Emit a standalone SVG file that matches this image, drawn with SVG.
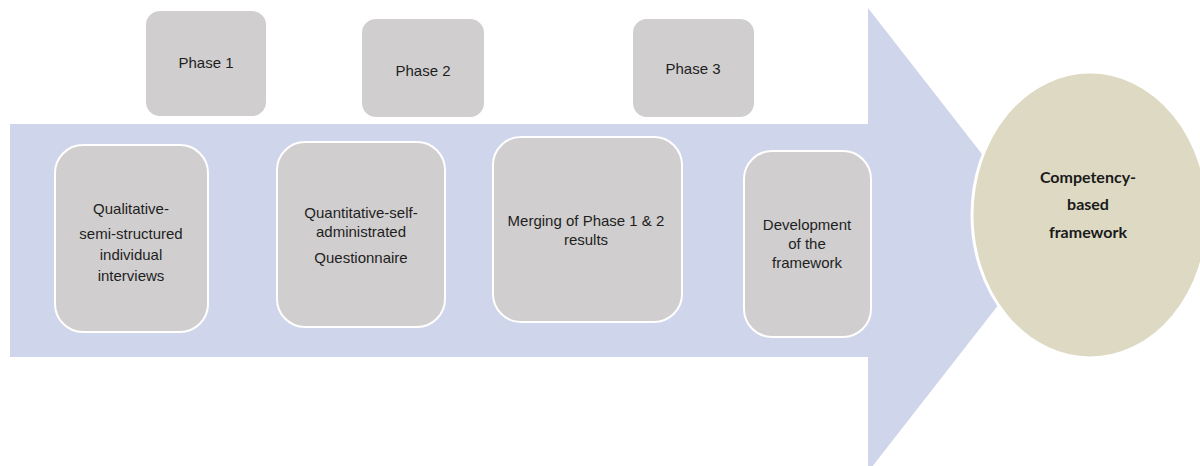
<svg xmlns="http://www.w3.org/2000/svg" width="1200" height="466" viewBox="0 0 1200 466">
  <style>
    .box { fill: #D0CECF; stroke: #FFFFFF; stroke-width: 2; }
    .lbl { font-family: "Liberation Sans", Arial, sans-serif; font-size: 15px; fill: #1E1E1E; text-anchor: middle; }
    .goal { font-family: Lato, "Open Sans", sans-serif; font-weight: bold; font-size: 16px; fill: #1A1A1A; text-anchor: middle; }
  </style>
  <rect width="1200" height="466" fill="#FFFFFF"/>

  <!-- big process arrow (backdrop) -->
  <g id="connectors">
    <polygon points="10,124 868,124 868,8 1049,240 868,472 868,357 10,357" fill="#CFD5EA"/>
  </g>

  <!-- phase labels -->
  <g id="phase1">
    <rect class="box" x="145" y="10" width="122" height="107" rx="15" stroke="none"/>
    <text class="lbl" x="206" y="68">Phase 1</text>
  </g>
  <g id="phase2">
    <rect class="box" x="361" y="18" width="124" height="100" rx="15" stroke="none"/>
    <text class="lbl" x="423" y="76">Phase 2</text>
  </g>
  <g id="phase3">
    <rect class="box" x="632" y="18" width="123" height="100" rx="15" stroke="none"/>
    <text class="lbl" x="693" y="74">Phase 3</text>
  </g>

  <!-- steps along the arrow -->
  <g id="step-qualitative">
    <rect class="box" x="55" y="145" width="153" height="187" rx="28"/>
    <text class="lbl" x="131" y="214">Qualitative-</text>
    <text class="lbl" x="131" y="239">semi-structured</text>
    <text class="lbl" x="131" y="260">individual</text>
    <text class="lbl" x="131" y="281">interviews</text>
  </g>
  <g id="step-quantitative">
    <rect class="box" x="277" y="142" width="168" height="185" rx="28"/>
    <text class="lbl" x="361" y="218">Quantitative-self-</text>
    <text class="lbl" x="361" y="237">administrated</text>
    <text class="lbl" x="361" y="263">Questionnaire</text>
  </g>
  <g id="step-merging">
    <rect class="box" x="493" y="137" width="189" height="185" rx="28"/>
    <text class="lbl" x="586" y="226">Merging of Phase 1 &amp; 2</text>
    <text class="lbl" x="586" y="245">results</text>
  </g>
  <g id="step-development">
    <rect class="box" x="744" y="151" width="127" height="186" rx="28"/>
    <text class="lbl" x="807" y="230">Development</text>
    <text class="lbl" x="807" y="249">of the</text>
    <text class="lbl" x="807" y="268">framework</text>
  </g>

  <!-- outcome -->
  <g id="outcome">
    <ellipse cx="1090" cy="215" rx="118" ry="143" fill="#DDD9C3" stroke="#FFFFFF" stroke-width="3"/>
    <text class="goal" x="1088" y="183">Competency-</text>
    <text class="goal" x="1088" y="210">based</text>
    <text class="goal" x="1088" y="238">framework</text>
  </g>
</svg>
